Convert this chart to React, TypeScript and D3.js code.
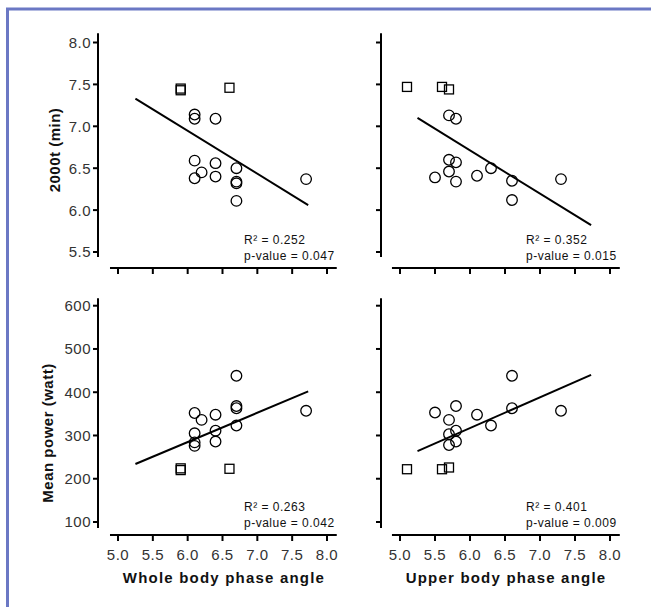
import React from "react";
import { scaleLinear } from "d3";

// x ticks / y ticks
const xTicks = [5.0, 5.5, 6.0, 6.5, 7.0, 7.5, 8.0];
const timeTicks = [5.5, 6.0, 6.5, 7.0, 7.5, 8.0];
const powerTicks = [100, 200, 300, 400, 500, 600];

// whole body phase angle vs 2000t
const wholeTimeCircX = [6.1, 6.1, 6.4, 6.1, 6.1, 6.2, 6.4, 6.4, 6.7, 6.7, 6.7, 6.7, 7.7];
const wholeTimeCircY = [7.14, 7.09, 7.09, 6.59, 6.38, 6.45, 6.56, 6.4, 6.5, 6.34, 6.32, 6.11, 6.37];
const wholeTimeSqX = [5.9, 5.9, 6.6];
const wholeTimeSqY = [7.45, 7.43, 7.46];

// upper body phase angle vs 2000t
const upperTimeCircX = [5.7, 5.8, 5.7, 5.8, 5.7, 5.5, 5.8, 6.1, 6.3, 6.6, 6.6, 7.3];
const upperTimeCircY = [7.13, 7.09, 6.6, 6.57, 6.46, 6.39, 6.34, 6.41, 6.5, 6.35, 6.12, 6.37];
const upperTimeSqX = [5.1, 5.6, 5.7];
const upperTimeSqY = [7.47, 7.47, 7.44];

// whole body phase angle vs mean power
const wholePowCircX = [6.1, 6.2, 6.1, 6.1, 6.1, 6.4, 6.4, 6.4, 6.7, 6.7, 6.7, 6.7, 7.7];
const wholePowCircY = [352, 336, 305, 284, 276, 348, 311, 286, 438, 368, 363, 323, 357];
const wholePowSqX = [5.9, 5.9, 6.6];
const wholePowSqY = [224, 220, 223];

// upper body phase angle vs mean power
const upperPowCircX = [5.5, 5.8, 5.7, 5.8, 5.7, 5.7, 5.8, 6.1, 6.3, 6.6, 6.6, 7.3];
const upperPowCircY = [353, 368, 336, 311, 303, 278, 286, 348, 323, 438, 363, 357];
const upperPowSqX = [5.1, 5.6, 5.7];
const upperPowSqY = [222, 222, 226];

// regression line ends
const fitX = [5.25, 7.73];
const fitWholeTime = [7.33, 6.06];
const fitUpperTime = [7.1, 5.82];
const fitWholePow = [234, 402];
const fitUpperPow = [264, 440];

const stats = [
  ["R² = 0.252", "p-value = 0.047"],
  ["R² = 0.352", "p-value = 0.015"],
  ["R² = 0.263", "p-value = 0.042"],
  ["R² = 0.401", "p-value = 0.009"],
];

const font = "'Liberation Sans', Arial, sans-serif";

const Panel = ({ xScale, yScale, yTicks, yFmt, axisX, axisY, yExt, showXLabels, showYLabels, cx, cy, sx, sy, fitY, stat, statY }) => {
  const [x0] = xScale.range();
  return (
    <g>
      {/* y axis */}
      <line x1={axisX} x2={axisX} y1={yScale(yExt[1])} y2={yScale(yExt[0])} stroke="#000" strokeWidth={2} />
      {yTicks.map((t, i) => (
        <g key={i} transform={`translate(0,${yScale(t)})`}>
          <line x1={axisX - 5} x2={axisX} stroke="#000" strokeWidth={2} />
          {showYLabels && (
            <text x={axisX - 7} dy=".36em" textAnchor="end" fontSize={15} fill="#333" letterSpacing={0.5}>
              {yFmt(t)}
            </text>
          )}
        </g>
      ))}
      {/* x axis */}
      <line x1={xScale(4.885)} x2={xScale(8.14)} y1={axisY} y2={axisY} stroke="#000" strokeWidth={2} />
      {xTicks.map((t, i) => (
        <g key={i} transform={`translate(${xScale(t)},0)`}>
          <line y1={axisY} y2={axisY + 6} stroke="#000" strokeWidth={2} />
          {showXLabels && (
            <text y={axisY + 25} textAnchor="middle" fontSize={15} fill="#333" letterSpacing={0.5}>
              {t.toFixed(1)}
            </text>
          )}
        </g>
      ))}
      {/* fit line */}
      <line x1={xScale(fitX[0])} x2={xScale(fitX[1])} y1={yScale(fitY[0])} y2={yScale(fitY[1])} stroke="#000" strokeWidth={2} />
      {sx.map((v, i) => (
        <rect key={"s" + i} x={xScale(v) - 4.5} y={yScale(sy[i]) - 4.5} width={9} height={9} fill="none" stroke="#000" strokeWidth={1.3} />
      ))}
      {cx.map((v, i) => (
        <circle key={"c" + i} cx={xScale(v)} cy={yScale(cy[i])} r={5.3} fill="none" stroke="#000" strokeWidth={1.3} />
      ))}
      <text x={x0 + 126} y={statY} fontSize={12} fill="#111" letterSpacing={0.5}>{stat[0]}</text>
      <text x={x0 + 126} y={statY + 15.5} fontSize={12} fill="#111" letterSpacing={0.5}>{stat[1]}</text>
    </g>
  );
};

export default function App() {
  const width = 651;
  const height = 607;

  const xLeft = scaleLinear().domain([5, 8]).range([118, 327]);
  const xRight = scaleLinear().domain([5, 8]).range([400, 610]);
  const yTime = scaleLinear().domain([5.5, 8]).range([252, 42.5]);
  const yPow = scaleLinear().domain([100, 600]).range([522, 305.7]);

  return (
    <svg width={width} height={height} style={{ position: "absolute", left: 0, top: 0, background: "#fff" }} fontFamily={font}>
      <rect x={0} y={0} width={width} height={height} fill="#fff" />
      <line x1={6} x2={width} y1={9} y2={9} stroke="#6b78c4" strokeWidth={3} />
      <line x1={7.5} x2={7.5} y1={8} y2={height} stroke="#6b78c4" strokeWidth={3} />

      <Panel xScale={xLeft} yScale={yTime} yTicks={timeTicks} yFmt={(t) => t.toFixed(1)} axisX={98} axisY={268} yExt={[5.44, 8.11]}
        showXLabels={false} showYLabels={true} cx={wholeTimeCircX} cy={wholeTimeCircY} sx={wholeTimeSqX} sy={wholeTimeSqY}
        fitY={fitWholeTime} stat={stats[0]} statY={244} />
      <Panel xScale={xRight} yScale={yTime} yTicks={timeTicks} yFmt={(t) => t.toFixed(1)} axisX={381} axisY={268} yExt={[5.44, 8.11]}
        showXLabels={false} showYLabels={false} cx={upperTimeCircX} cy={upperTimeCircY} sx={upperTimeSqX} sy={upperTimeSqY}
        fitY={fitUpperTime} stat={stats[1]} statY={244} />
      <Panel xScale={xLeft} yScale={yPow} yTicks={powerTicks} yFmt={(t) => String(t)} axisX={98} axisY={535} yExt={[86, 617]}
        showXLabels={true} showYLabels={true} cx={wholePowCircX} cy={wholePowCircY} sx={wholePowSqX} sy={wholePowSqY}
        fitY={fitWholePow} stat={stats[2]} statY={511} />
      <Panel xScale={xRight} yScale={yPow} yTicks={powerTicks} yFmt={(t) => String(t)} axisX={381} axisY={535} yExt={[86, 617]}
        showXLabels={true} showYLabels={false} cx={upperPowCircX} cy={upperPowCircY} sx={upperPowSqX} sy={upperPowSqY}
        fitY={fitUpperPow} stat={stats[3]} statY={511} />

      <text transform="translate(60,150) rotate(-90)" textAnchor="middle" fontSize={15} fontWeight="bold" fill="#111" letterSpacing={0.5}>
        2000t (min)
      </text>
      <text transform="translate(53,433) rotate(-90)" textAnchor="middle" fontSize={15} fontWeight="bold" fill="#111" letterSpacing={0.5}>
        Mean power (watt)
      </text>
      <text x={224} y={583} textAnchor="middle" fontSize={15} fontWeight="bold" fill="#111" letterSpacing={1.2}>
        Whole body phase angle
      </text>
      <text x={506} y={583} textAnchor="middle" fontSize={15} fontWeight="bold" fill="#111" letterSpacing={1.2}>
        Upper body phase angle
      </text>
    </svg>
  );
}
